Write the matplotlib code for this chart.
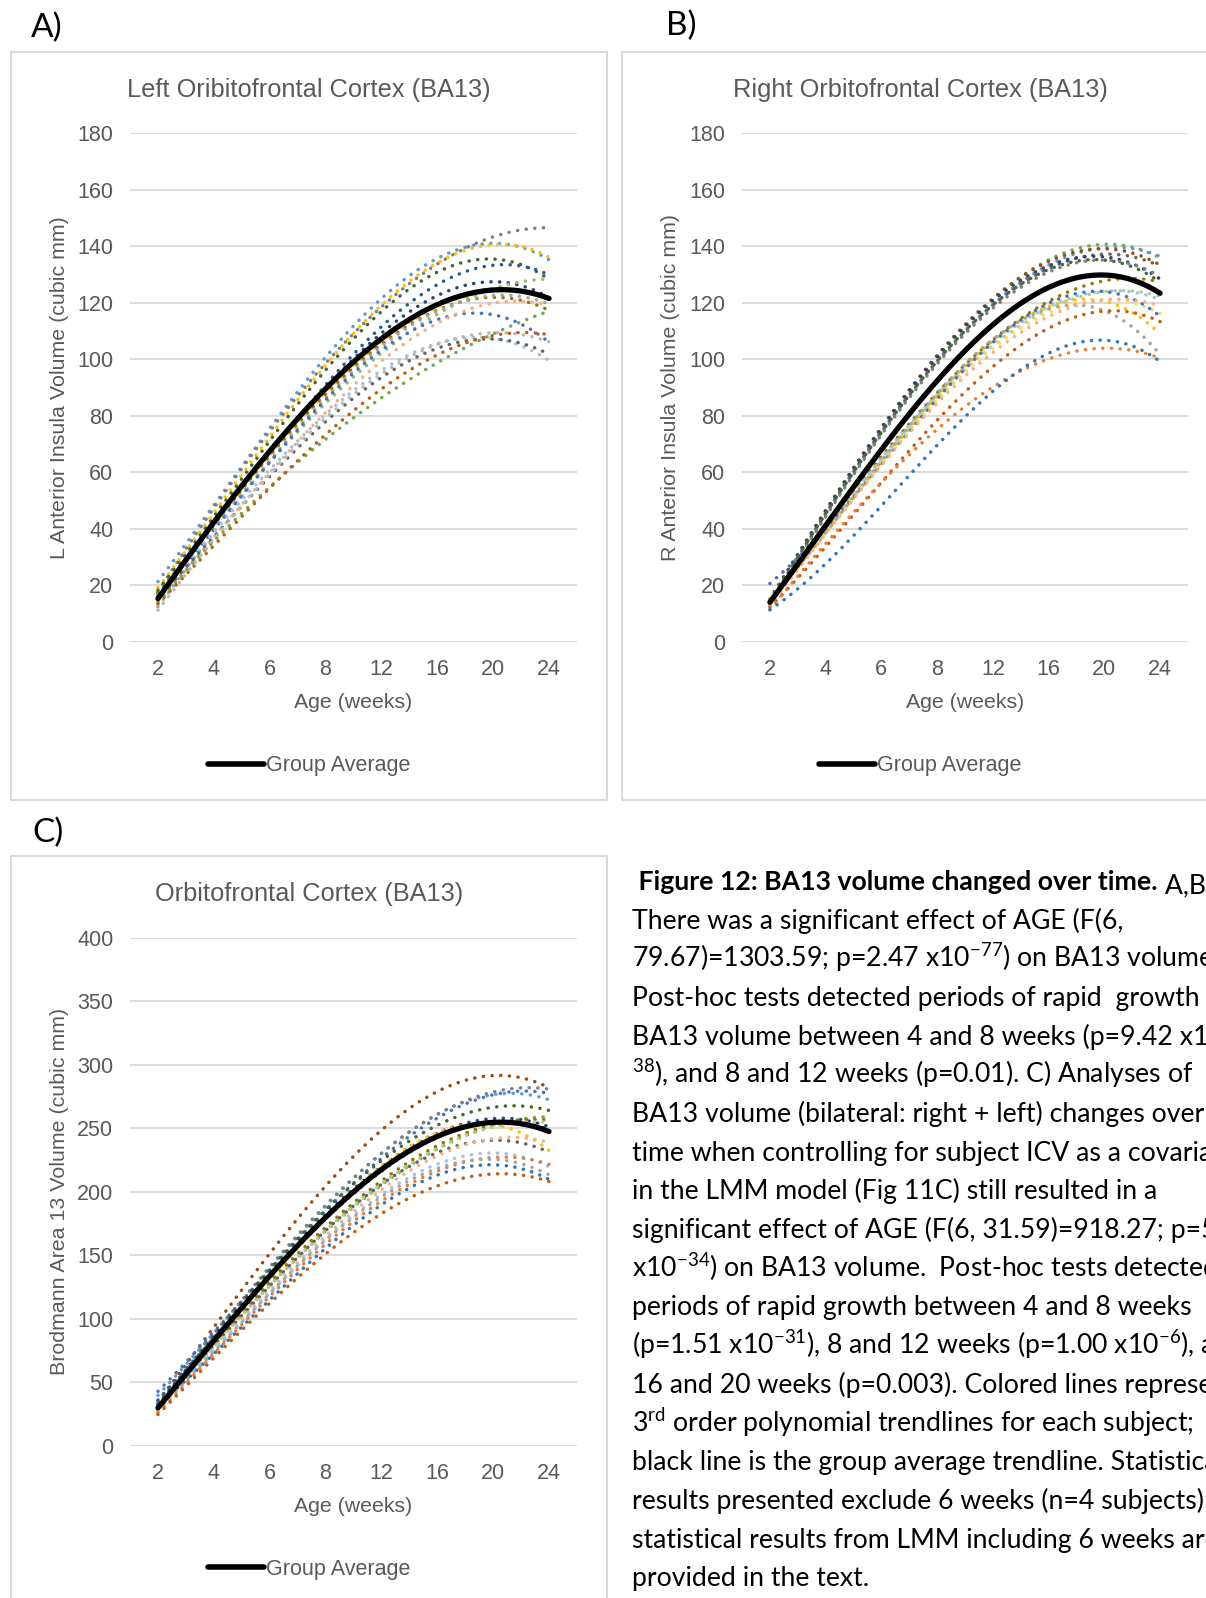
import matplotlib
matplotlib.use("Agg")
import matplotlib.pyplot as plt
from matplotlib.patches import Rectangle
from matplotlib.lines import Line2D
import numpy as np

# ages are plotted as evenly spaced categories, like the original Excel charts
weeks = ["2", "4", "6", "8", "12", "16", "20", "24"]

# per-subject volumes (cubic mm) read at each age, left BA13
left_colors = ["#5B9BD5", "#7F7F7F", "#FFC000", "#43682B", "#255E91", "#264478",
               "#8CC168", "#FFCD33", "#997300", "#A5A5A5", "#4472C4", "#F4B183",
               "#70AD47", "#9DC3E6", "#636363", "#B7B7B7", "#C55A11"]
left_subjects = [
    [21, 49, 76, 101, 119, 138, 141, 135],
    [18, 47, 75, 99, 117, 136, 142, 147],
    [19, 46, 73, 98, 118, 135, 141, 136],
    [18, 45, 71, 97, 115, 132, 136, 128],
    [17, 42, 67, 90, 112, 127, 133, 130],
    [16, 42, 66, 89, 110, 123, 127, 122],
    [16, 40, 63, 85, 103, 116, 124, 129],
    [16, 42, 66, 88, 106, 118, 125, 121],
    [17, 42, 66, 88, 105, 117, 123, 117],
    [12, 40, 64, 86, 104, 117, 124, 119],
    [15, 41, 64, 85, 102, 114, 118, 105],
    [14, 38, 60, 80, 100, 113, 120, 119],
    [14, 36, 55, 72, 85, 100, 109, 117],
    [16, 40, 61, 80, 96, 105, 109, 99],
    [15, 38, 59, 78, 92, 104, 109, 101],
    [11, 37, 59, 79, 95, 105, 110, 106],
    [13, 35, 55, 73, 88, 102, 110, 108],
]
left_average = [15, 43, 68, 89, 107, 119, 126, 121]

# right BA13
right_colors = ["#70AD47", "#5B9BD5", "#9E480E", "#636363", "#264478", "#43682B",
                "#7F7F7F", "#997300", "#9DC3E6", "#A9D18E", "#FFC000", "#FFD966",
                "#4472C4", "#A5A5A5", "#F4B183", "#C55A11", "#ED7D31", "#2E75B6"]
right_subjects = [
    [15, 45, 76, 101, 119, 135, 143, 135],
    [14, 44, 75, 100, 118, 133, 141, 136],
    [15, 46, 78, 100, 121, 135, 140, 133],
    [14, 45, 76, 98, 119, 133, 137, 133],
    [15, 46, 78, 99, 120, 134, 137, 128],
    [15, 45, 76, 98, 119, 132, 136, 127],
    [13, 44, 75, 97, 118, 131, 136, 129],
    [14, 40, 67, 87, 107, 120, 129, 127],
    [13, 39, 66, 87, 106, 118, 125, 121],
    [14, 39, 66, 86, 105, 117, 125, 122],
    [15, 39, 65, 86, 106, 118, 123, 108],
    [14, 38, 64, 85, 104, 116, 122, 116],
    [21, 39, 64, 86, 106, 119, 125, 115],
    [14, 40, 66, 86, 106, 117, 121, 100],
    [13, 38, 63, 84, 103, 115, 121, 119],
    [12, 34, 57, 78, 97, 111, 118, 113],
    [12, 34, 56, 76, 91, 100, 103, 101],
    [11, 28, 49, 70, 87, 101, 110, 98],
]
right_average = [14, 41, 69, 92, 112, 125, 131, 123]

# bilateral BA13
both_colors = ["#9E480E", "#5B9BD5", "#7F7F7F", "#4472C4", "#43682B", "#264478",
               "#70AD47", "#FFC000", "#997300", "#A9D18E", "#636363", "#F4B183",
               "#9DC3E6", "#ED7D31", "#A5A5A5", "#2E75B6", "#C55A11", "#255E91"]
both_subjects = [
    [33, 97, 152, 200, 249, 280, 293, 281],
    [38, 91, 142, 186, 228, 260, 282, 270],
    [30, 88, 140, 189, 230, 262, 278, 281],
    [42, 90, 140, 184, 225, 257, 280, 276],
    [31, 89, 140, 184, 222, 252, 271, 262],
    [32, 86, 138, 180, 219, 246, 260, 250],
    [28, 80, 128, 167, 203, 235, 254, 258],
    [29, 82, 134, 177, 214, 245, 263, 228],
    [30, 82, 131, 170, 206, 237, 256, 255],
    [27, 80, 127, 168, 205, 233, 255, 253],
    [31, 81, 128, 167, 203, 231, 245, 229],
    [30, 78, 124, 163, 200, 230, 243, 238],
    [29, 77, 122, 160, 196, 222, 234, 218],
    [25, 74, 118, 157, 192, 217, 228, 221],
    [27, 76, 121, 160, 194, 219, 228, 212],
    [30, 75, 117, 153, 186, 213, 227, 207],
    [24, 70, 112, 150, 183, 205, 214, 208],
    [35, 86, 135, 177, 215, 243, 257, 248],
]
both_average = [29, 83, 136, 178, 216, 243, 258, 246]

caption_lines = [
    " A,B)",
    "There was a significant effect of AGE (F(6,",
    r"79.67)=1303.59; p=2.47 x10$^{-77}$) on BA13 volume.",
    "Post-hoc tests detected periods of rapid  growth in",
    "BA13 volume between 4 and 8 weeks (p=9.42 x10-",
    r"$^{38}$), and 8 and 12 weeks (p=0.01). C) Analyses of",
    "BA13 volume (bilateral: right + left) changes over",
    "time when controlling for subject ICV as a covariate",
    "in the LMM model (Fig 11C) still resulted in a",
    "significant effect of AGE (F(6, 31.59)=918.27; p=5",
    r"x10$^{-34}$) on BA13 volume.  Post-hoc tests detected",
    "periods of rapid growth between 4 and 8 weeks",
    r"(p=1.51 x10$^{-31}$), 8 and 12 weeks (p=1.00 x10$^{-6}$), and",
    "16 and 20 weeks (p=0.003). Colored lines represent",
    r"3$^{rd}$ order polynomial trendlines for each subject;",
    "black line is the group average trendline. Statistical",
    "results presented exclude 6 weeks (n=4 subjects);",
    "statistical results from LMM including 6 weeks are",
    "provided in the text.",
]

W, H = 1206, 1598
GREY_TXT = "#595959"
GRID = "#D9D9D9"
plt.rcParams["font.family"] = ["Liberation Sans", "DejaVu Sans"]
plt.rcParams["mathtext.fontset"] = "custom"
plt.rcParams["mathtext.rm"] = "Lato"
plt.rcParams["mathtext.it"] = "Lato"
plt.rcParams["mathtext.default"] = "rm"

fig = plt.figure(figsize=(W / 100, H / 100), dpi=100)


def fx(x):
    return x / W


def fy(y):
    return 1 - y / H


def trend(values, xs):
    # 3rd order polynomial trendline, as in the original figure
    coef = np.polyfit(np.arange(len(values)), values, 3)
    return np.polyval(coef, xs)


def panel(box, area, title, ylabel, ymax, ystep, subjects, colors, average, ylab_x):
    bx0, by0, bx1, by1 = box
    fig.patches.append(Rectangle((fx(bx0), fy(by1)), fx(bx1 - bx0), (by1 - by0) / H,
                                 transform=fig.transFigure, fill=False,
                                 edgecolor=GRID, lw=1.5))
    x0, y0, x1, y1 = area
    ax = fig.add_axes([fx(x0), fy(y1), fx(x1 - x0), (y1 - y0) / H])
    xs = np.linspace(0, len(weeks) - 1, 200)
    for vals, col in zip(subjects, colors):
        ax.plot(xs, trend(vals, xs), color=col, lw=2.5,
                linestyle=(0, (0.05, 2.45)), dash_capstyle="round")
    ax.plot(xs, trend(average, xs), color="black", lw=3.8, solid_capstyle="round")
    ax.set_xlim(-0.5, len(weeks) - 0.5)
    ax.set_ylim(0, ymax)
    ax.set_yticks(np.arange(0, ymax + 1, ystep))
    ax.set_xticks(range(len(weeks)))
    ax.set_xticklabels(weeks)
    ax.grid(axis="y", color=GRID, lw=1.3)
    ax.set_axisbelow(True)
    for s in ax.spines.values():
        s.set_visible(False)
    ax.tick_params(length=0, labelsize=15.5, colors=GREY_TXT)
    ax.tick_params(axis="y", pad=12)
    ax.tick_params(axis="x", pad=12.5)
    ax.patch.set_alpha(0)
    cx = (bx0 + bx1) / 2
    fig.text(fx(cx), fy(by0 + 38), title, ha="center", va="center",
             fontsize=18.3, color=GREY_TXT)
    fig.text(fx((x0 + x1) / 2), fy(y1 + 61), "Age (weeks)", ha="center", va="center",
             fontsize=15.3, color=GREY_TXT)
    fig.text(fx(ylab_x), fy((y0 + y1) / 2), ylabel, rotation=90, ha="center",
             va="center", fontsize=15.4, color=GREY_TXT)
    handle = Line2D([], [], color="black", lw=4, solid_capstyle="round")
    fig.legend([handle], ["Group Average"], loc="center",
               bbox_to_anchor=(fx(cx), fy(y1 + 124)), bbox_transform=fig.transFigure,
               frameon=False, fontsize=15.5, handlelength=2.6, handletextpad=0.1,
               labelcolor=GREY_TXT)
    return ax


panel((11, 52, 607, 800), (130, 133.5, 577, 642), "Left Oribitofrontal Cortex (BA13)",
      "L Anterior Insula Volume (cubic mm)", 180, 20, left_subjects, left_colors,
      left_average, 60)
panel((622, 52, 1218, 800), (742, 133.5, 1188, 642), "Right Orbitofrontal Cortex (BA13)",
      "R Anterior Insula Volume (cubic mm)", 180, 20, right_subjects, right_colors,
      right_average, 671)
panel((11, 856, 607, 1660), (130, 938, 577, 1445.5), "Orbitofrontal Cortex (BA13)",
      "Brodmann Area 13 Volume (cubic mm)", 400, 50, both_subjects, both_colors,
      both_average, 60)

for lab, x, y in [("A)", 31, 28), ("B)", 666, 26), ("C)", 32, 833)]:
    fig.text(fx(x), fy(y), lab, ha="left", va="center", fontsize=24,
             family=["Lato", "DejaVu Sans"], color="black")

# caption, clipped at the right edge like the source
cap_font = ["Lato", "DejaVu Sans"]
cap_size = 19.2
base0 = 890
step = 38.68
bold = fig.text(fx(632), fy(base0), " Figure 12: BA13 volume changed over time.",
                ha="left", va="baseline", fontsize=cap_size, fontweight="bold",
                family=cap_font, color="black")
fig.add_artist(matplotlib.text.Annotation(
    caption_lines[0], xy=(1, 0), xycoords=bold, va="baseline", ha="left",
    fontsize=cap_size, family=cap_font, color="black", annotation_clip=False))
for i, line in enumerate(caption_lines[1:], start=1):
    fig.text(fx(632), fy(base0 + i * step), line, ha="left", va="baseline",
             fontsize=cap_size, family=cap_font, color="black")

fig.savefig("out.png", dpi=100)
